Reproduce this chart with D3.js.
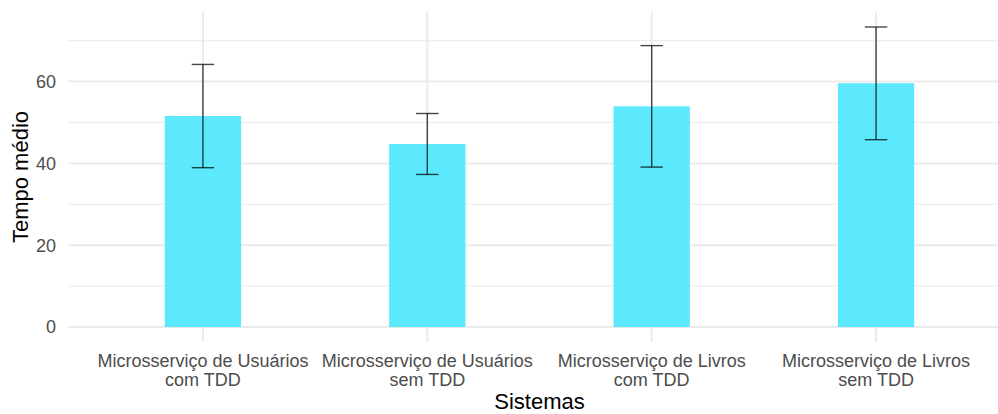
<!DOCTYPE html>
<html>
<head>
<meta charset="utf-8">
<script src="https://cdn.jsdelivr.net/npm/d3@7"></script>
<style>
  html, body { margin: 0; padding: 0; background: #fff; }
  svg { display: block; font-family: "Liberation Sans", Arial, Helvetica, sans-serif; }
</style>
</head>
<body>
<svg id="chart" width="998" height="414"></svg>
<script>
// Mean response time per system, with the lower/upper ends of the error bars
const categories = [
  ["Microsserviço de Usuários", "com TDD"],
  ["Microsserviço de Usuários", "sem TDD"],
  ["Microsserviço de Livros", "com TDD"],
  ["Microsserviço de Livros", "sem TDD"]
];
const means = [51.6, 44.75, 53.95, 59.6];
const lower = [38.95, 37.3, 39.1, 45.8];
const upper = [64.2, 52.2, 68.8, 73.35];
const yTicks = [0, 20, 40, 60];
const yMinor = [10, 30, 50, 70];

const svg = d3.select("#chart");
const W = 998, H = 414;
const panel = { left: 68.3, right: 1010.7, top: 12, bottom: 342 };

// Discrete x positions 1..n with a 0.6 expansion on each side
const x = d3.scaleLinear()
  .domain([0.4, categories.length + 0.6])
  .range([panel.left, panel.right]);

// Continuous y with 5% expansion around [0, max upper]
const yMax = d3.max(upper);
const pad = yMax * 0.05;
const y = d3.scaleLinear()
  .domain([-pad, yMax + pad])
  .range([panel.bottom, panel.top]);

const grid = svg.append("g");
grid.selectAll("line.minor").data(yMinor).join("line")
  .attr("x1", panel.left).attr("x2", W)
  .attr("y1", d => y(d)).attr("y2", d => y(d))
  .attr("stroke", "#ebebeb").attr("stroke-width", 1);
grid.selectAll("line.major").data(yTicks).join("line")
  .attr("x1", panel.left).attr("x2", W)
  .attr("y1", d => y(d)).attr("y2", d => y(d))
  .attr("stroke", "#ebebeb").attr("stroke-width", 2);
grid.selectAll("line.vmajor").data(categories).join("line")
  .attr("x1", (d, i) => x(i + 1)).attr("x2", (d, i) => x(i + 1))
  .attr("y1", panel.top).attr("y2", panel.bottom)
  .attr("stroke", "#ebebeb").attr("stroke-width", 2);

// Bars
const barW = 0.34;
svg.append("g").selectAll("rect").data(means).join("rect")
  .attr("x", (d, i) => x(i + 1 - barW / 2))
  .attr("width", (d, i) => x(i + 1 + barW / 2) - x(i + 1 - barW / 2))
  .attr("y", d => y(d))
  .attr("height", d => y(0) - y(d))
  .attr("fill", "#5ce9fd");

// Error bars
const capW = 0.1;
const eb = svg.append("g")
  .attr("stroke", "#000").attr("stroke-opacity", 0.72).attr("stroke-width", 1.4).attr("fill", "none");
means.forEach((m, i) => {
  const cx = x(i + 1);
  eb.append("line").attr("x1", cx).attr("x2", cx).attr("y1", y(upper[i])).attr("y2", y(lower[i]));
  [upper[i], lower[i]].forEach(v => {
    eb.append("line")
      .attr("x1", x(i + 1 - capW / 2)).attr("x2", x(i + 1 + capW / 2))
      .attr("y1", y(v)).attr("y2", y(v));
  });
});

// Y tick labels
svg.append("g").selectAll("text").data(yTicks).join("text")
  .attr("x", 56).attr("y", d => y(d))
  .attr("dy", "0.36em")
  .attr("text-anchor", "end")
  .attr("font-size", 18)
  .attr("fill", "#4d4d4d")
  .text(d => d);

// X tick labels (two lines each)
const xl = svg.append("g").selectAll("text").data(categories).join("text")
  .attr("text-anchor", "middle")
  .attr("font-size", 18)
  .attr("fill", "#4d4d4d");
xl.each(function(d, i) {
  const t = d3.select(this);
  d.forEach((line, k) => {
    t.append("tspan").attr("x", x(i + 1)).attr("y", 366.5 + k * 19).text(line);
  });
});

// Axis titles
svg.append("text")
  .attr("x", (panel.left + panel.right) / 2).attr("y", 408.5)
  .attr("text-anchor", "middle").attr("font-size", 22).attr("fill", "#000")
  .text("Sistemas");
svg.append("text")
  .attr("transform", `translate(28,${(panel.top + panel.bottom) / 2}) rotate(-90)`)
  .attr("text-anchor", "middle").attr("font-size", 22).attr("fill", "#000")
  .text("Tempo médio");
</script>
</body>
</html>
